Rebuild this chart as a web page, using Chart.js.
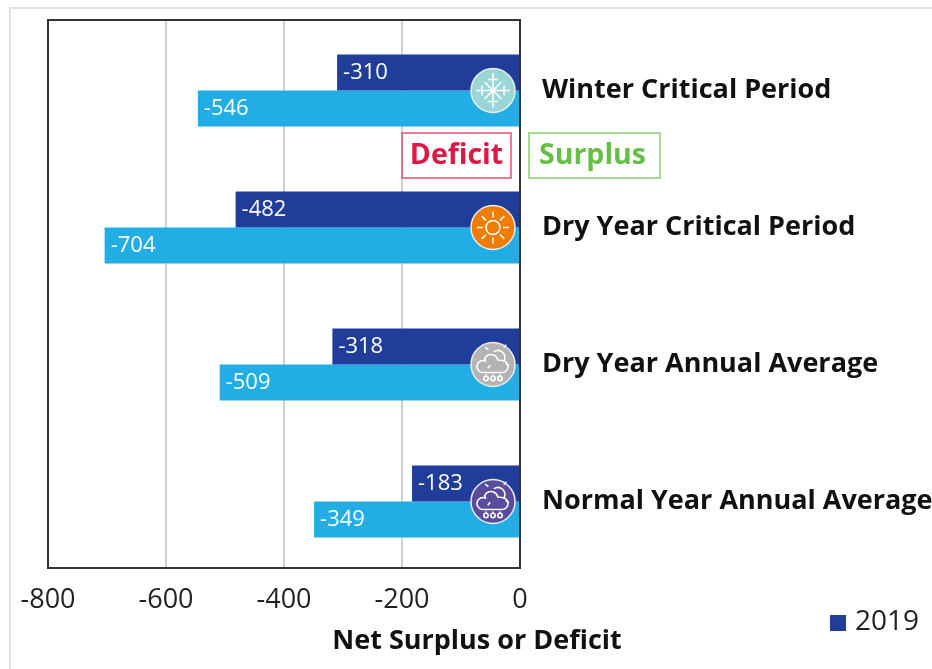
<!DOCTYPE html>
<html>
<head>
<meta charset="utf-8">
<title>Net Surplus or Deficit</title>
<script src="https://cdn.jsdelivr.net/npm/chart.js@4"></script>
<style>
  html, body { margin: 0; padding: 0; background: #fff; overflow: hidden; }
  #wrap { position: relative; width: 932px; height: 669px; }
  #frame { position: absolute; left: 9px; top: 7px; right: 0; bottom: 0; border-left: 2px solid #e2e2e2; border-top: 2px solid #e2e2e2; }
  #chart { position: absolute; left: 0; top: 0; }
</style>
</head>
<body>
<div id="wrap">
  <div id="frame"></div>
  <canvas id="chart" width="932" height="669"></canvas>
</div>
<script>
const categories = ['Winter Critical Period', 'Dry Year Critical Period', 'Dry Year Annual Average', 'Normal Year Annual Average'];
const values2019 = [-310, -482, -318, -183];
const valuesLight = [-546, -704, -509, -349];
const tickValues = [-800, -600, -400, -200, 0];
const iconColors = ['#9ad6d6', '#f07c00', '#b3b3b3', '#5a4b9c'];
const xTitle = 'Net Surplus or Deficit';
const FONT = '"Open Sans", sans-serif';

function spokes(c, x, y, r1, r2, n, start) {
    for (let i = 0; i < n; i++) {
        const a = start + i * 2 * Math.PI / n;
        c.moveTo(x + r1 * Math.cos(a), y + r1 * Math.sin(a));
        c.lineTo(x + r2 * Math.cos(a), y + r2 * Math.sin(a));
    }
}

function drawSnow(c, x, y) {
    c.beginPath();
    spokes(c, x, y, 0, 17, 4, 0);
    spokes(c, x, y, 0, 12, 4, Math.PI / 4);
    // small cross bars on the long arms
    [[0, -11], [0, 11], [-11, 0], [11, 0]].forEach(p => {
        const dx = p[0] === 0 ? 5 : 0, dy = p[1] === 0 ? 5 : 0;
        c.moveTo(x + p[0] - dx, y + p[1] - dy);
        c.lineTo(x + p[0] + dx, y + p[1] + dy);
    });
    c.stroke();
}

function drawSun(c, x, y) {
    c.beginPath();
    c.arc(x, y, 7, 0, 2 * Math.PI);
    spokes(c, x, y, 10, 16, 8, 0);
    c.stroke();
}

function drawCloud(c, x, y) {
    // sun behind the cloud
    c.beginPath();
    spokes(c, x + 4, y - 8, 11, 15, 4, -Math.PI * 0.82 + 0.1);
    c.moveTo(x + 11, y - 3);
    c.arc(x + 5, y - 7, 7, 0.5, -Math.PI * 0.7, true);
    c.stroke();
    // cloud outline
    c.beginPath();
    c.moveTo(x - 10, y + 8);
    c.arc(x - 10, y + 2, 6, Math.PI / 2, -Math.PI / 2 + 0.4);
    c.arc(x - 2, y - 3, 7, -Math.PI * 0.85, -0.2);
    c.arc(x + 9, y + 2, 6, -Math.PI / 2, Math.PI / 2);
    c.closePath();
    c.stroke();
    [-7, 0, 7].forEach(dx => {
        c.beginPath();
        c.arc(x + dx, y + 14, 2.2, 0, 2 * Math.PI);
        c.moveTo(x + dx, y + 10);
        c.lineTo(x + dx, y + 12);
        c.stroke();
    });
}

function drawBox(c, text, left, right, top, bottom, color, textColor, shift) {
    c.strokeStyle = color;
    c.lineWidth = 1.5;
    c.strokeRect(left, top, right - left, bottom - top);
    c.fillStyle = textColor;
    c.font = 'bold 28.5px ' + FONT;
    c.textAlign = 'center';
    c.textBaseline = 'middle';
    c.fillText(text, (left + right) / 2 + shift, (top + bottom) / 2);
}

// the frame sits 2px above the band area, the bars are not centred in it
const frameShift = 2;

const overlay = {
    id: 'overlay',
    beforeDatasetsDraw(chart) {
        const c = chart.ctx;
        const area = chart.chartArea;
        c.save();
        c.strokeStyle = '#cfcfcf';
        c.lineWidth = 2;
        c.beginPath();
        tickValues.forEach(v => {
            const x = chart.scales.x.getPixelForValue(v);
            c.moveTo(x, area.top - frameShift);
            c.lineTo(x, area.bottom - frameShift);
        });
        c.stroke();
        c.restore();
    },
    afterDatasetsDraw(chart) {
        const c = chart.ctx;
        const area = chart.chartArea;
        c.save();

        // bar value labels
        c.fillStyle = '#fff';
        c.font = '22px ' + FONT;
        c.textAlign = 'left';
        c.textBaseline = 'middle';
        chart.data.datasets.forEach((ds, d) => {
            chart.getDatasetMeta(d).data.forEach((bar, i) => {
                c.fillText(ds.data[i], bar.x + 6, bar.y);
            });
        });

        // plot frame
        c.strokeStyle = '#333';
        c.lineWidth = 2;
        c.strokeRect(area.left, area.top - frameShift, area.right - area.left, area.bottom - area.top);

        // round icons on the zero line
        const iconX = area.right - 27;
        const painters = [drawSnow, drawSun, drawCloud, drawCloud];
        categories.forEach((name, i) => {
            const y = chart.scales.y.getPixelForValue(i);
            c.beginPath();
            c.arc(iconX, y, 22, 0, 2 * Math.PI);
            c.fillStyle = iconColors[i];
            c.fill();
            c.strokeStyle = '#e8eef2';
            c.lineWidth = 1.5;
            c.stroke();
            c.strokeStyle = '#fff';
            c.lineWidth = 1.6;
            painters[i](c, iconX, y);
        });

        // deficit / surplus tags
        drawBox(c, 'Deficit', 402, 511, 133, 178, '#e2506f', '#d91a45', 0);
        drawBox(c, 'Surplus', 529, 660, 133, 178, '#86cf6c', '#66bf45', -2);

        // axis title, centred under the whole figure rather than the plot
        c.fillStyle = '#111';
        c.font = 'bold 27px ' + FONT;
        c.textAlign = 'center';
        c.textBaseline = 'middle';
        c.fillText(xTitle, 477, 641);

        // legend: only the first series is listed
        c.fillStyle = chart.data.datasets[0].backgroundColor;
        c.fillRect(830, 615, 16, 16);
        c.fillStyle = '#222';
        c.font = '28px ' + FONT;
        c.textAlign = 'left';
        c.fillText(chart.data.datasets[0].label, 855, 622);

        c.restore();
    }
};

new Chart(document.getElementById('chart').getContext('2d'), {
    type: 'bar',
    data: {
        labels: categories,
        datasets: [
            { label: '2019', data: values2019, backgroundColor: '#1f3d99' },
            { label: '', data: valuesLight, backgroundColor: '#23ade5' }
        ]
    },
    options: {
        indexAxis: 'y',
        responsive: false,
        animation: false,
        layout: { padding: { left: 48, top: 22, right: 0, bottom: 0 } },
        categoryPercentage: 0.526,
        barPercentage: 1,
        plugins: { legend: { display: false }, tooltip: { enabled: false } },
        scales: {
            x: {
                min: -800,
                max: 0,
                afterFit(scale) { scale.height = 99; scale.paddingLeft = 0; scale.paddingRight = 0; },
                afterBuildTicks(scale) { scale.ticks = tickValues.map(v => ({ value: v })); },
                grid: { display: false, drawTicks: false },
                border: { display: false },
                ticks: {
                    color: '#222',
                    font: { family: FONT, size: 27 },
                    padding: 14,
                    maxRotation: 0
                }
            },
            y: {
                position: 'right',
                afterFit(scale) { scale.width = 412; scale.paddingTop = 0; scale.paddingBottom = 0; },
                grid: { display: false },
                border: { display: false },
                ticks: {
                    color: '#111',
                    font: { family: FONT, size: 27, weight: 'bold' },
                    padding: 14,
                    autoSkip: false
                }
            }
        }
    },
    plugins: [overlay]
});
</script>
</body>
</html>
